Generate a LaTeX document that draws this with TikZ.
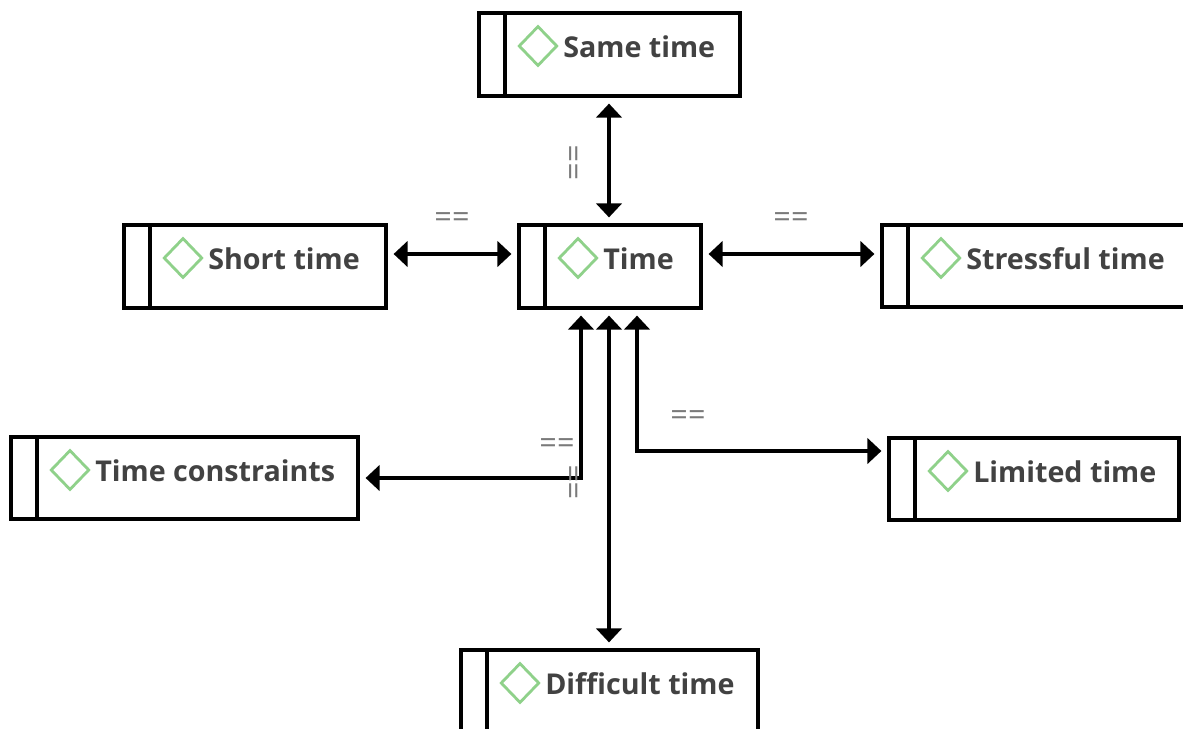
\documentclass[tikz,border=0pt]{standalone}
\usepackage{fontspec}
\setmainfont{Open Sans}
\usetikzlibrary{arrows.meta,shapes.geometric,fit}
\definecolor{txt}{HTML}{424242}
\definecolor{dgreen}{HTML}{8FD18A}
\definecolor{lbl}{HTML}{7A7A7A}
\newcommand\mybox[6]{%
  \node[tbox, fit={(#2,#3) (#4,#5)}] (#1) {};
  \draw[boxline] ({#2+26},#3) -- ({#2+26},#5);
  \node[icon] (#1-icon) at ({#2+59},{#3+33}) {};
  \node[boxtext] (#1-text) at ({#2+84},{#3+44}) {#6};
}
\begin{document}
\begin{tikzpicture}[x=0.75pt,y=-0.75pt,
  tbox/.style={draw=black, line width=2.4pt, rectangle, inner sep=0pt},
  boxline/.style={draw=black, line width=2.4pt},
  icon/.style={diamond, draw=dgreen, line width=2.1pt, minimum width=29pt, minimum height=30pt, inner sep=0pt},
  boxtext/.style={anchor=base west, inner sep=0pt, text=txt, font=\fontsize{21.5}{25}\selectfont\bfseries},
  conn/.style={draw=black, line width=2.4pt, {Triangle[length=10.5pt,width=19pt]}-{Triangle[length=10.5pt,width=19pt]}, shorten <=4.5pt, shorten >=4.5pt},
  elbl/.style={inner sep=0pt, text=lbl, font=\fontsize{23}{23}\selectfont}
]
\useasboundingbox (0,0) rectangle (1183,729);
\clip (0,0) rectangle (1183,729);
\fill[white] (0,0) rectangle (1183,729);

\mybox{same}{479}{13}{740}{96}{Same time}
\mybox{time}{519}{225}{701}{308}{Time}
\mybox{short}{124}{225}{386}{308}{Short time}
\mybox{stress}{882}{225}{1210}{307}{Stressful time}
\mybox{cons}{11}{437}{358}{519}{Time constraints}
\mybox{lim}{889}{438}{1179}{520}{Limited time}
\mybox{diff}{461}{650}{758}{770}{Difficult time}

\draw[conn] (same.south -| 609,0) -- (time.north -| 609,0);
\draw[conn] (short.east |- 0,254) -- (time.west |- 0,254);
\draw[conn] (time.east |- 0,254) -- (stress.west |- 0,254);
\draw[conn] (time.south -| 581,0) |- (cons.east |- 0,478);
\draw[conn] (time.south -| 609,0) -- (diff.north -| 609,0);
\draw[conn] (time.south -| 637,0) |- (lim.west |- 0,451);

\node[elbl, rotate=90] (l1) at (577,163) {==};
\node[elbl] (l2) at (452,220) {==};
\node[elbl] (l3) at (791,220) {==};
\node[elbl] (l4) at (557,446) {==};
\node[elbl, rotate=90] (l5) at (577,482) {==};
\node[elbl] (l6) at (688,418) {==};
\end{tikzpicture}
\end{document}
